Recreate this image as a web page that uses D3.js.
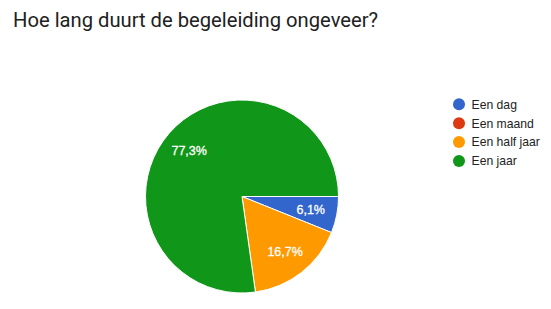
<!DOCTYPE html>
<html><head><meta charset="utf-8">
<script src="https://cdn.jsdelivr.net/npm/d3@7"></script>
<style>html,body{margin:0;padding:0;background:#fff;overflow:hidden}</style>
</head><body>
<svg id="chart" width="551" height="309"></svg>
<script>
const title = "Hoe lang duurt de begeleiding ongeveer?";
const categories = ["Een dag", "Een maand", "Een half jaar", "Een jaar"];
const values = [6.1, 0, 16.7, 77.3];
const labels = ["6,1%", "", "16,7%", "77,3%"];
const colors = ["#3366cc", "#dc3912", "#ff9900", "#109618"];

const svg = d3.select("#chart");
svg.append("text").attr("x", 13).attr("y", 26.5)
  .attr("font-family", "Roboto").attr("font-size", 20.2).attr("fill", "#212121")
  .text(title);

const cx = 242, cy = 196.5, R = 96.5;
const g = svg.append("g").attr("transform", `translate(${cx},${cy})`);
const pie = d3.pie().value(d => d.v).sort(null)
  .startAngle(Math.PI / 2).endAngle(Math.PI / 2 + 2 * Math.PI);
const data = categories.map((c, i) => ({c, v: values[i], label: labels[i], color: colors[i]}));
const arcs = pie(data);
const arc = d3.arc().innerRadius(0).outerRadius(R);
g.selectAll("path").data(arcs).enter().append("path")
  .attr("d", arc).attr("fill", d => d.data.color)
  .attr("stroke", "#fff").attr("stroke-width", d => d.data.v > 0 ? 1 : 0);

const labelArc = d3.arc().innerRadius(70).outerRadius(70);
g.selectAll("text.lbl").data(arcs.filter(d => d.data.v > 0)).enter().append("text")
  .attr("class", "lbl")
  .attr("transform", d => { const p = labelArc.centroid(d); return `translate(${p[0]},${p[1]})`; })
  .attr("text-anchor", "middle").attr("dy", "0.36em")
  .attr("font-family", "Arial, 'Liberation Sans'").attr("font-size", 12.5).attr("fill", "#fff")
  .attr("stroke", "#fff").attr("stroke-width", 0.3)
  .text(d => d.data.label);

const legend = svg.append("g");
const ly = d3.scalePoint().domain(categories).range([104.3, 161]);
categories.forEach((c, i) => {
  legend.append("circle").attr("cx", 459).attr("cy", ly(c)).attr("r", 6).attr("fill", colors[i]);
  legend.append("text").attr("x", 471.5).attr("y", ly(c)).attr("dy", "0.36em")
    .attr("font-family", "Arial, 'Liberation Sans'").attr("font-size", 12.2).attr("fill", "#222")
    .text(c);
});
</script>
</body></html>
